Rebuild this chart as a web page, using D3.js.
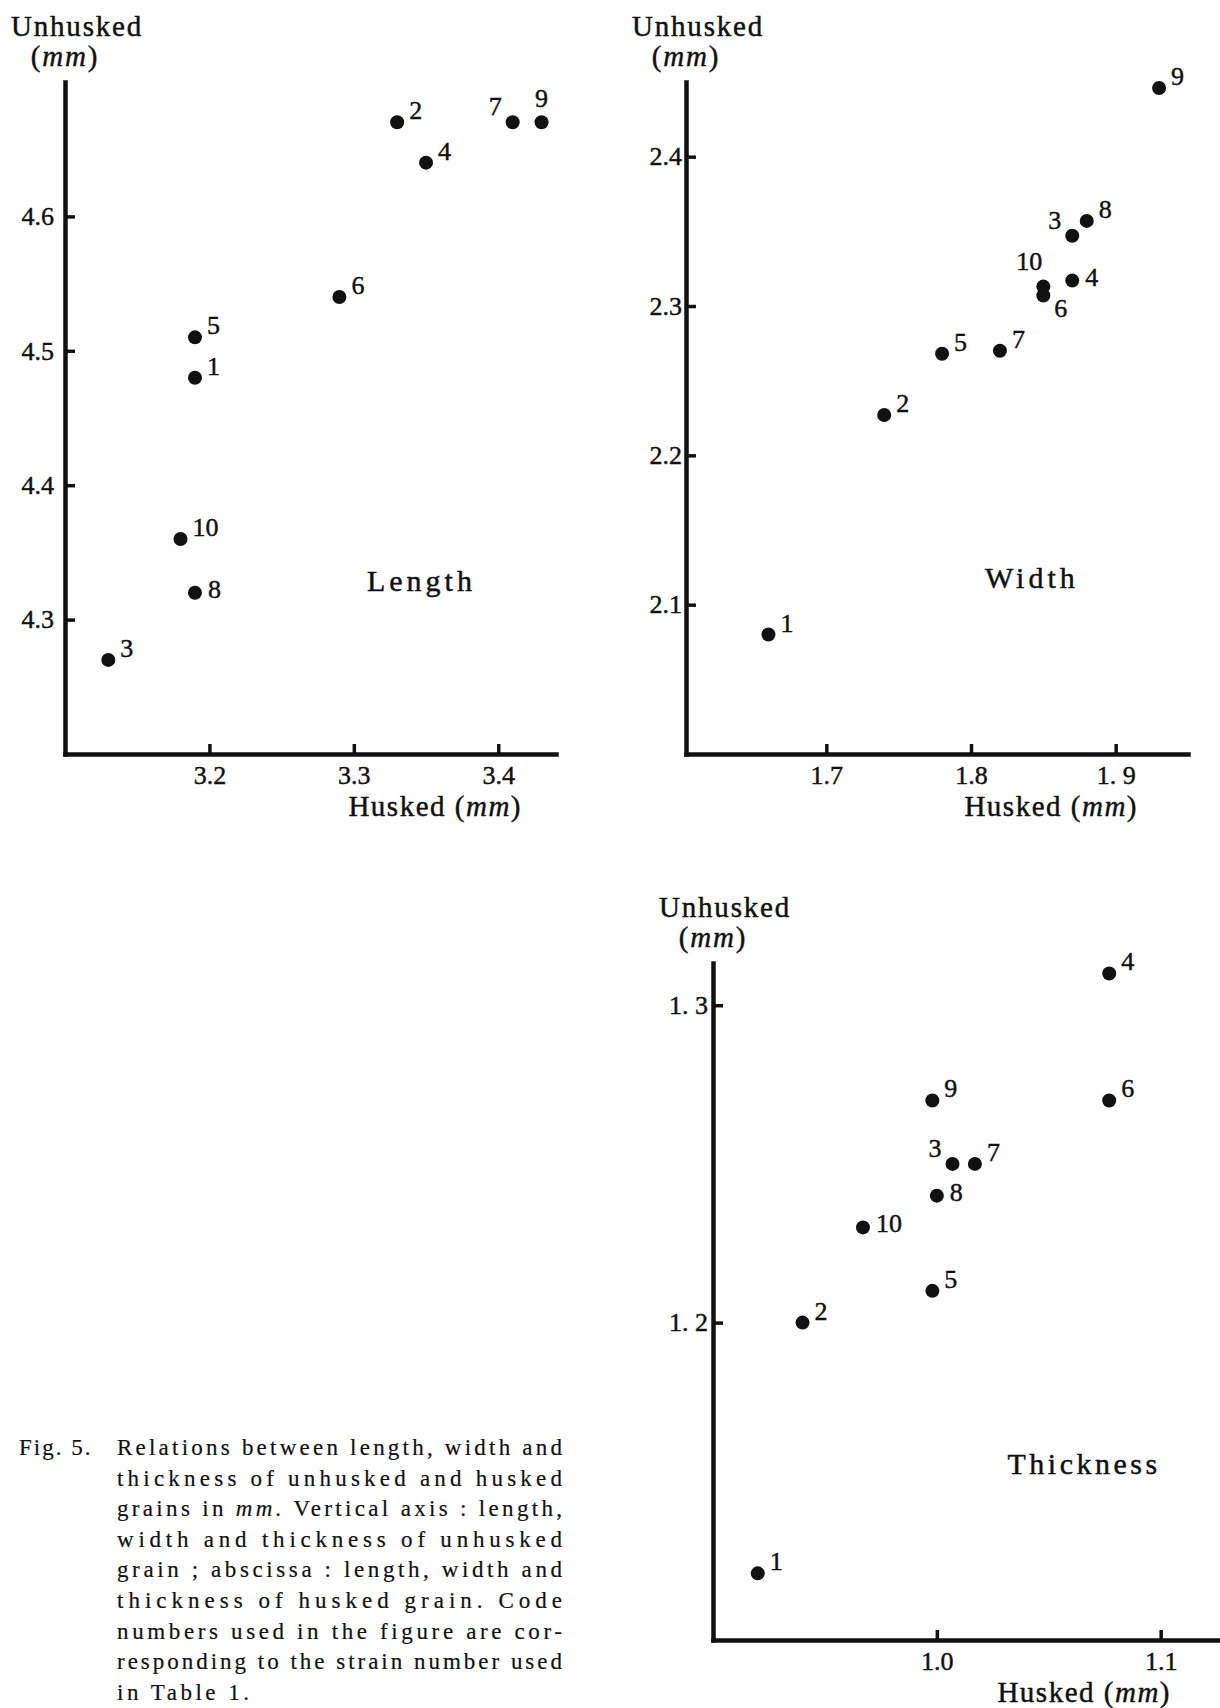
<!DOCTYPE html>
<html>
<head>
<meta charset="utf-8">
<script src="https://cdn.jsdelivr.net/npm/d3@7"></script>
<style>
    body { margin: 0; background: #fff; }
    svg text {
        font-family: "Liberation Serif", "Times New Roman", serif;
        fill: #111;
        stroke: #111;
        stroke-width: 0.45px;
    }
</style>
</head>
<body>
<svg id="fig" width="1220" height="1708"></svg>
<script>
// strain code numbers (Table 1)
const strains = [1, 2, 3, 4, 5, 6, 7, 8, 9, 10];

const lengthHusked   = [3.19, 3.33, 3.13, 3.35, 3.19, 3.29, 3.41, 3.19, 3.43, 3.18];
const lengthUnhusked = [4.48, 4.67, 4.27, 4.64, 4.51, 4.54, 4.67, 4.32, 4.67, 4.36];

const widthHusked   = [1.66, 1.74, 1.87, 1.87, 1.78, 1.85, 1.82, 1.88, 1.93, 1.85];
const widthUnhusked = [2.08, 2.227, 2.347, 2.317, 2.268, 2.307, 2.27, 2.357, 2.446, 2.313];

const thickHusked   = [0.92, 0.94, 1.007, 1.077, 0.998, 1.077, 1.017, 1.0, 0.998, 0.967];
const thickUnhusked = [1.121, 1.2, 1.25, 1.31, 1.21, 1.27, 1.25, 1.24, 1.27, 1.23];

const lengthTicksX = [3.2, 3.3, 3.4];
const lengthTickLabelsX = ["3.2", "3.3", "3.4"];
const lengthTicksY = [4.3, 4.4, 4.5, 4.6];
const lengthTickLabelsY = ["4.3", "4.4", "4.5", "4.6"];

const widthTicksX = [1.7, 1.8, 1.9];
const widthTickLabelsX = ["1.7", "1.8", "1. 9"];
const widthTicksY = [2.1, 2.2, 2.3, 2.4];
const widthTickLabelsY = ["2.1", "2.2", "2.3", "2.4"];

const thickTicksX = [1.0, 1.1];
const thickTickLabelsX = ["1.0", "1.1"];
const thickTicksY = [1.2, 1.3];
const thickTickLabelsY = ["1. 2", "1. 3"];

// where each code number sits around its dot
const lengthLabelPos = ["ne", "ne", "ne", "ne", "ne", "ne", "nw", "e", "n", "ne"];
const widthLabelPos  = ["ne", "ne", "nw", "e", "ne", "se", "ne", "ne", "ne", "nl"];
const thickLabelPos  = ["ne", "ne", "nw", "ne", "ne", "ne", "ne", "e", "ne", "e"];

const captionHead = "Fig. 5.";
const captionLines = [
    "Relations between length, width and",
    "thickness of unhusked and husked",
    "grains in mm. Vertical axis : length,",
    "width and thickness of unhusked",
    "grain ; abscissa : length, width and",
    "thickness of husked grain.  Code",
    "numbers used in the figure are cor-",
    "responding to the strain number used",
    "in Table 1."
];

const placements = {
    ne: {dx: 12, dy: -3, anchor: "start"},
    e:  {dx: 13, dy: 5, anchor: "start"},
    se: {dx: 11, dy: 21, anchor: "start"},
    nw: {dx: -11, dy: -7, anchor: "end"},
    n:  {dx: 0, dy: -15, anchor: "middle"},
    nl: {dx: -1, dy: -17, anchor: "end"}
};

const panels = [
    {
        name: "Length", husked: lengthHusked, unhusked: lengthUnhusked, labelPos: lengthLabelPos,
        xDomain: [3.1, 3.44], yDomain: [4.2, 4.7],
        xTicks: lengthTicksX, xTickLabels: lengthTickLabelsX,
        yTicks: lengthTicksY, yTickLabels: lengthTickLabelsY,
        left: 65, right: 556, top: 82, bottom: 754,
        yTickPad: 11, xTitleShift: -34, titleAt: [0.726, 0.757], titleSpacing: 4
    },
    {
        name: "Width", husked: widthHusked, unhusked: widthUnhusked, labelPos: widthLabelPos,
        xDomain: [1.603, 1.95], yDomain: [2.0, 2.45],
        xTicks: widthTicksX, xTickLabels: widthTickLabelsX,
        yTicks: widthTicksY, yTickLabels: widthTickLabelsY,
        left: 686, right: 1188, top: 82, bottom: 754,
        yTickPad: 4, xTitleShift: -50, titleAt: [0.689, 0.753], titleSpacing: 4
    },
    {
        name: "Thickness", husked: thickHusked, unhusked: thickUnhusked, labelPos: thickLabelPos,
        xDomain: [0.9, 1.1265], yDomain: [1.1, 1.3133],
        xTicks: thickTicksX, xTickLabels: thickTickLabelsX,
        yTicks: thickTicksY, yTickLabels: thickTickLabelsY,
        left: 713, right: 1220, top: 963, bottom: 1640,
        yTickPad: 5, xTitleShift: -49, titleAt: [0.732, 0.755], titleSpacing: 3.5
    }
];

const svg = d3.select("#fig");

function styleAxis(g) {
    g.attr("font-size", 26);
    g.select(".domain")
      .attr("stroke", "#111")
      .attr("stroke-width", 4.5)
      .attr("stroke-linecap", "square");
    g.selectAll(".tick line")
      .attr("stroke", "#111")
      .attr("stroke-width", 3.5);
}

function mmText(sel, before, after) {
    sel.append("tspan").text(before);
    sel.append("tspan").attr("font-style", "italic").text("mm");
    sel.append("tspan").text(after);
}

function drawPanel(p) {
    const x = d3.scaleLinear().domain(p.xDomain).range([p.left, p.right]);
    const y = d3.scaleLinear().domain(p.yDomain).range([p.bottom, p.top]);
    const g = svg.append("g").attr("class", "panel " + p.name.toLowerCase());

    g.append("g")
      .attr("class", "axis x")
      .attr("transform", `translate(0,${p.bottom})`)
      .call(d3.axisBottom(x)
        .tickValues(p.xTicks)
        .tickFormat((d, i) => p.xTickLabels[i])
        .tickSizeInner(-10).tickSizeOuter(0).tickPadding(12))
      .call(styleAxis);

    g.append("g")
      .attr("class", "axis y")
      .attr("transform", `translate(${p.left},0)`)
      .call(d3.axisLeft(y)
        .tickValues(p.yTicks)
        .tickFormat((d, i) => p.yTickLabels[i])
        .tickSizeInner(-10).tickSizeOuter(0).tickPadding(p.yTickPad))
      .call(styleAxis);

    // axis titles
    g.append("text")
      .attr("x", p.left + 12).attr("y", p.top - 46)
      .attr("text-anchor", "middle")
      .attr("font-size", 29).attr("letter-spacing", 1.8)
      .text("Unhusked");

    g.append("text")
      .attr("x", p.left).attr("y", p.top - 16)
      .attr("text-anchor", "middle")
      .attr("font-size", 29).attr("letter-spacing", 1.8)
      .call(mmText, "(", ")");

    g.append("text")
      .attr("x", p.right + p.xTitleShift).attr("y", p.bottom + 62)
      .attr("text-anchor", "end")
      .attr("font-size", 29).attr("letter-spacing", 1.5)
      .call(mmText, "Husked (", ")");

    g.append("text")
      .attr("x", p.left + p.titleAt[0] * (p.right - p.left))
      .attr("y", p.top + p.titleAt[1] * (p.bottom - p.top))
      .attr("text-anchor", "middle")
      .attr("font-size", 30).attr("letter-spacing", p.titleSpacing)
      .text(p.name);

    const pts = strains.map((s, i) => ({code: s, hx: p.husked[i], uy: p.unhusked[i], pos: placements[p.labelPos[i]]}));

    g.selectAll(".dot")
      .data(pts)
      .enter().append("circle")
      .attr("class", "dot")
      .attr("cx", d => x(d.hx))
      .attr("cy", d => y(d.uy))
      .attr("r", 7)
      .attr("fill", "#111");

    g.selectAll(".code")
      .data(pts)
      .enter().append("text")
      .attr("class", "code")
      .attr("x", d => x(d.hx) + d.pos.dx)
      .attr("y", d => y(d.uy) + d.pos.dy)
      .attr("text-anchor", d => d.pos.anchor)
      .attr("font-size", 26)
      .text(d => d.code);
}

panels.forEach(drawPanel);

// figure caption, justified like the printed block
const caption = svg.append("g").attr("class", "caption").attr("font-size", 23);

caption.append("text")
  .attr("x", 19).attr("y", 1455)
  .attr("letter-spacing", 2)
  .style("stroke-width", "0.2px")
  .text(captionHead);

captionLines.forEach(function(line, i) {
    const t = caption.append("text")
      .attr("x", 117)
      .attr("y", 1455 + i * 30.6)
      .style("stroke-width", "0.2px");
    line.split(/(mm\.)/).forEach(function(seg) {
        if(seg === "") return;
        t.append("tspan")
          .attr("font-style", seg === "mm." ? "italic" : null)
          .text(seg);
    });
    if(i < captionLines.length - 1) {
        t.attr("textLength", 445).attr("lengthAdjust", "spacing");
    } else {
        t.attr("letter-spacing", 3.5);
    }
});
</script>
</body>
</html>
